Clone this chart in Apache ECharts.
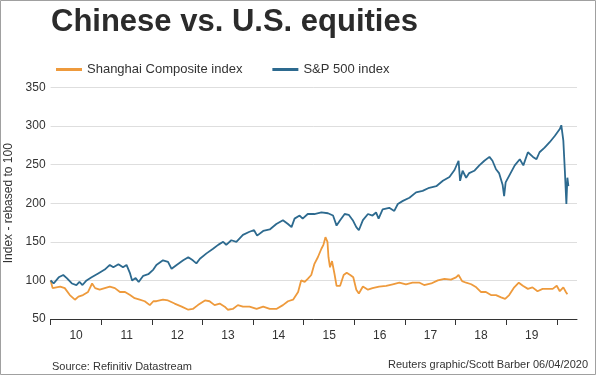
<!DOCTYPE html>
<html>
<head>
<meta charset="utf-8">
<script src="https://cdn.jsdelivr.net/npm/echarts@6/dist/echarts.min.js"></script>
<style>
html,body{margin:0;padding:0;background:#fff;}
#chart{width:600px;height:376px;}
</style>
</head>
<body>
<div id="chart"></div>
<script>
// ---- data (x = fractional year, y = index rebased to 100) ----
const spDates = [2010.00,2010.06,2010.16,2010.25,2010.32,2010.42,2010.51,2010.57,2010.63,2010.71,2010.81,2010.94,
2011.07,2011.17,2011.24,2011.34,2011.43,2011.50,2011.57,2011.61,2011.68,2011.74,2011.83,2011.93,
2012.03,2012.09,2012.22,2012.32,2012.39,2012.49,2012.62,2012.72,2012.81,2012.88,2012.95,
2013.08,2013.21,2013.31,2013.41,2013.47,2013.57,2013.67,2013.80,2013.93,
2014.02,2014.08,2014.20,2014.33,2014.46,2014.59,2014.69,2014.76,2014.82,2014.92,2014.98,
2015.08,2015.21,2015.35,2015.48,2015.58,2015.65,2015.72,2015.81,2015.89,2015.97,
2016.04,2016.09,2016.17,2016.27,2016.36,2016.43,2016.48,2016.56,2016.69,2016.79,2016.86,2016.96,
2017.09,2017.22,2017.35,2017.48,2017.62,2017.75,2017.88,2017.98,
2018.06,2018.09,2018.14,2018.21,2018.27,2018.37,2018.47,2018.57,2018.67,2018.73,2018.80,2018.86,2018.93,2018.96,2018.99,
2019.08,2019.17,2019.27,2019.34,2019.43,2019.53,2019.60,2019.66,2019.76,2019.86,2019.96,
2020.06,2020.09,2020.13,2020.16,2020.19,2020.21,2020.23];
const spValues = [100,96,104,107,103,96,94,98,94,100,104,109,
114,120,117,121,117,120,109,100,103,98,106,108,
114,120,126,124,115,120,126,130,126,122,128,
135,141,146,150,146,152,150,159,163,
165,158,164,166,173,178,173,169,180,184,180,
186,186,188,187,184,171,178,186,185,178,
169,165,178,186,184,188,180,192,194,190,199,203,
207,214,216,220,222,229,234,243,
255,229,242,233,239,242,249,255,260,255,244,239,224,209,227,
238,249,257,249,266,260,257,266,272,279,287,
296,301,281,242,199,233,222];

const shDates = [2010.00,2010.04,2010.19,2010.28,2010.38,2010.48,2010.55,2010.64,2010.74,2010.82,2010.88,2010.97,
2011.07,2011.17,2011.27,2011.37,2011.47,2011.57,2011.66,2011.76,2011.86,2011.96,
2012.03,2012.09,2012.22,2012.32,2012.45,2012.59,2012.72,2012.81,2012.91,
2013.05,2013.14,2013.24,2013.34,2013.44,2013.50,2013.60,2013.70,2013.80,2013.93,
2014.07,2014.20,2014.33,2014.46,2014.59,2014.69,2014.79,2014.89,2014.95,
2015.02,2015.08,2015.15,2015.21,2015.28,2015.35,2015.39,2015.43,2015.47,2015.49,2015.52,2015.56,2015.61,2015.65,2015.72,2015.79,2015.85,2015.92,2015.98,
2016.04,2016.09,2016.17,2016.27,2016.36,2016.49,2016.63,2016.76,2016.89,
2017.02,2017.15,2017.29,2017.38,2017.52,2017.65,2017.78,2017.91,
2018.01,2018.06,2018.13,2018.21,2018.31,2018.41,2018.50,2018.60,2018.70,2018.80,2018.90,2018.98,
2019.06,2019.16,2019.25,2019.33,2019.43,2019.52,2019.62,2019.72,2019.82,2019.92,
2020.00,2020.06,2020.13,2020.18,2020.21];
const shValues = [100,90,92,90,81,75,79,81,85,96,90,88,
90,92,90,85,85,81,77,75,73,68,
73,73,75,74,70,66,62,63,68,
74,73,68,70,66,62,63,68,66,66,
63,66,63,63,68,73,75,85,100,
98,102,107,121,130,141,146,156,150,130,117,125,108,93,93,107,110,107,104,
88,83,92,88,90,92,93,95,97,
95,97,97,94,96,100,102,101,
104,107,99,97,95,91,85,85,81,81,78,76,
81,91,97,93,89,91,86,89,89,89,
93,86,91,85,82];

const yearLabels = ['10','11','12','13','14','15','16','17','18','19'];
const seriesNames = ['Shanghai Composite index','S&P 500 index'];
const titleText = 'Chinese vs. U.S. equities';
const yAxisName = 'Index - rebased to 100';
const sourceText = 'Source: Refinitiv Datastream';
const creditText = 'Reuters graphic/Scott Barber 06/04/2020';

const FONT = 'Liberation Sans, Arial, Helvetica, sans-serif';
const ORANGE = '#ee9a3c';
const BLUE = '#2d6a8f';

const zip = (xs, ys) => xs.map((x, i) => [x, ys[i]]);

const chart = echarts.init(document.getElementById('chart'), null, {renderer: 'canvas'});
chart.setOption({
  animation: false,
  backgroundColor: '#ffffff',
  textStyle: {fontFamily: FONT},
  title: {
    text: titleText,
    left: 46, top: 2,
    textStyle: {fontFamily: FONT, fontSize: 31, fontWeight: 'bold', color: '#2b2b2b'}
  },
  legend: {
    left: 51, top: 58,
    itemWidth: 26, itemHeight: 3, itemGap: 30,
    icon: 'rect',
    textStyle: {fontFamily: FONT, fontSize: 13, color: '#333'},
    data: seriesNames
  },
  grid: {left: 50.6, right: 23, top: 87.4, bottom: 57, containLabel: false, outerBoundsMode: 'none'},
  xAxis: {
    type: 'value',
    min: 2010, max: 2020.4, interval: 1,
    axisLine: {show: true, lineStyle: {color: '#333', width: 1}},
    axisTick: {show: true, length: 6, lineStyle: {color: '#333'}},
    splitLine: {show: false},
    axisLabel: {
      fontFamily: FONT, fontSize: 12, color: '#333', margin: 11,
      padding: [0, 0, 0, 51],
      showMaxLabel: false,
      formatter: v => { const i = Math.round(v) - 2010; return (i >= 0 && i < yearLabels.length) ? yearLabels[i] : ''; }
    }
  },
  yAxis: {
    type: 'value',
    min: 50, max: 350, interval: 50,
    name: yAxisName,
    nameLocation: 'middle',
    nameGap: 34,
    nameTextStyle: {fontFamily: FONT, fontSize: 12, color: '#333'},
    axisLine: {show: false},
    axisTick: {show: false},
    axisLabel: {fontFamily: FONT, fontSize: 12, color: '#333', margin: 5},
    splitLine: {show: true, lineStyle: {color: '#dedede', width: 1}}
  },
  series: [
    {
      name: seriesNames[0], type: 'line', showSymbol: false, symbol: 'none',
      lineStyle: {color: ORANGE, width: 1.8}, itemStyle: {color: ORANGE},
      data: zip(shDates, shValues)
    },
    {
      name: seriesNames[1], type: 'line', showSymbol: false, symbol: 'none',
      lineStyle: {color: BLUE, width: 1.8}, itemStyle: {color: BLUE},
      data: zip(spDates, spValues)
    }
  ],
  graphic: [
    {type: 'rect', shape: {x: 0.5, y: 0.5, width: 595, height: 374}, style: {fill: 'none', stroke: '#a0a0a0', lineWidth: 1}, silent: true},
    {type: 'text', left: 52, top: 361, style: {text: sourceText, font: '11px ' + FONT, fill: '#333'}},
    {type: 'text', right: 12, top: 359, style: {text: creditText, font: '11px ' + FONT, fill: '#333'}}
  ]
});
</script>
</body>
</html>
